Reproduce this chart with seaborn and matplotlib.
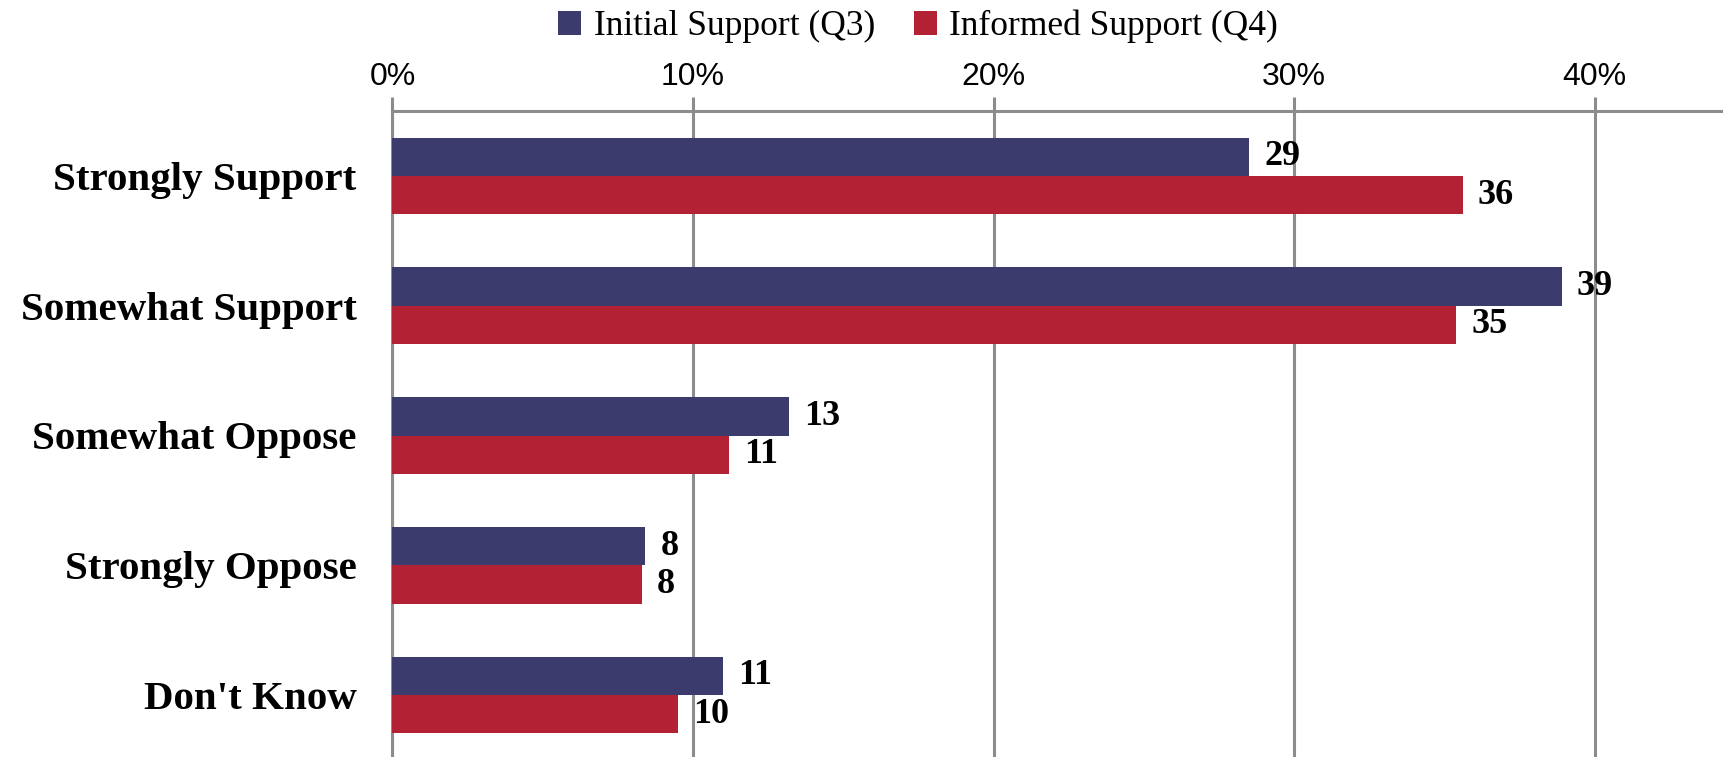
import matplotlib
matplotlib.use("Agg")
import matplotlib.pyplot as plt
import matplotlib.ticker as mticker
import pandas as pd
import seaborn as sns

categories = ["Strongly Support", "Somewhat Support", "Somewhat Oppose", "Strongly Oppose", "Don't Know"]
series = ["Initial Support (Q3)", "Informed Support (Q4)"]
initial = [28.5, 38.9, 13.2, 8.4, 11.0]
informed = [35.6, 35.4, 11.2, 8.3, 9.5]
initial_labels = ["29", "39", "13", "8", "11"]
informed_labels = ["36", "35", "11", "8", "10"]
colors = ["#3C3B6E", "#B22234"]

df = pd.DataFrame({
    "category": categories * 2,
    "series": [series[0]] * len(categories) + [series[1]] * len(categories),
    "value": initial + informed,
})

sns.set_style("white")
plt.rcParams["font.family"] = ["Liberation Serif", "DejaVu Serif"]
plt.rcParams["text.color"] = "black"
plt.rcParams["xtick.color"] = "black"
plt.rcParams["ytick.color"] = "black"

fig = plt.figure(figsize=(17.24, 7.57), dpi=100)
ax = fig.add_axes([392.5 / 1724, -3 / 757, 1 - 392.5 / 1724, (757 - 111 + 3) / 757])

sns.barplot(data=df, y="category", x="value", hue="series", palette=colors,
            orient="h", width=0.59, saturation=1, linewidth=0, ax=ax, zorder=3)

ax.set_xlim(0, 44.3)
ax.set_ylim(len(categories) - 0.5, -0.5)

grey = "#8c8c8c"
ax.xaxis.tick_top()
ax.xaxis.set_major_locator(mticker.MultipleLocator(10))
ax.xaxis.set_major_formatter(mticker.FuncFormatter(lambda v, p: f"{v:.0f}%"))
ax.tick_params(axis="x", direction="out", length=10, width=2.2, color=grey,
               labelcolor="black", pad=4, labelsize=23)
for lab in ax.get_xticklabels():
    lab.set_family(["Liberation Sans", "DejaVu Sans"])

ax.set_yticks(range(len(categories)))
ax.set_yticklabels(categories, fontsize=29.5, fontweight="bold")
ax.tick_params(axis="y", which="major", length=0, pad=26, labelcolor="black")
ax.set_yticks([i - 0.5 for i in range(len(categories) + 1)], minor=True)
ax.tick_params(axis="y", which="minor", direction="out", length=14, width=2.2, color=grey)

ax.grid(axis="x", color=grey, linewidth=2.2, zorder=0)
ax.grid(axis="y", visible=False)
ax.set_axisbelow(True)

for side in ["top", "left"]:
    ax.spines[side].set_color(grey)
    ax.spines[side].set_linewidth(2.2)
for side in ["bottom", "right"]:
    ax.spines[side].set_visible(False)

ax.set_xlabel("")
ax.set_ylabel("")

for container, labels in zip(ax.containers, [initial_labels, informed_labels]):
    ax.bar_label(container, labels=labels, padding=11, fontsize=26, fontweight="bold")

ax.legend(title=None, loc="upper center", bbox_to_anchor=((918 - 392.5) / (1724 - 392.5), 1.178),
          ncol=2, frameon=False, fontsize=25.5, handlelength=0.65, handleheight=0.65,
          handletextpad=0.35, columnspacing=1.1, borderaxespad=0)

fig.savefig("out.png", dpi=100)
